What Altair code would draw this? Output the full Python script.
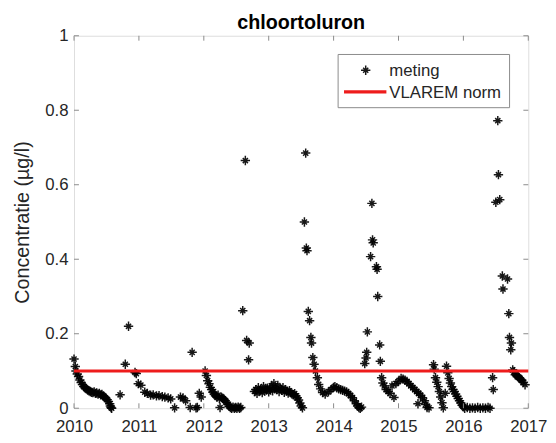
import altair as alt
import pandas as pd

# ---- data ----
years = [
    2010.00, 2010.02, 2010.03, 2010.05, 2010.07, 2010.09, 2010.11, 2010.13, 2010.15, 2010.17,
    2010.19, 2010.21, 2010.23, 2010.25, 2010.27, 2010.29, 2010.31, 2010.33, 2010.35, 2010.37,
    2010.39, 2010.41, 2010.43, 2010.45, 2010.47, 2010.49, 2010.51, 2010.53, 2010.55, 2010.56,
    2010.57, 2010.58, 2010.71, 2010.79, 2010.84, 2010.94, 2010.96, 2010.99, 2011.03, 2011.09,
    2011.13, 2011.18, 2011.22, 2011.27, 2011.31, 2011.36, 2011.40, 2011.45, 2011.49, 2011.55,
    2011.64, 2011.68, 2011.72, 2011.79, 2011.82, 2011.88, 2011.90, 2011.93, 2011.96,
    2012.02, 2012.04, 2012.06, 2012.08, 2012.10, 2012.12, 2012.14, 2012.16, 2012.18, 2012.20,
    2012.22, 2012.24, 2012.25, 2012.27, 2012.29, 2012.31, 2012.33, 2012.35, 2012.37, 2012.39,
    2012.41, 2012.43, 2012.45, 2012.47, 2012.49, 2012.51, 2012.53, 2012.55, 2012.57,
    2012.60, 2012.64, 2012.66, 2012.69, 2012.70,
    2012.78, 2012.80, 2012.82, 2012.84, 2012.86, 2012.88, 2012.90, 2012.92, 2012.94, 2012.96,
    2012.98, 2013.00, 2013.02, 2013.04, 2013.06, 2013.08, 2013.10, 2013.12, 2013.14, 2013.16,
    2013.18, 2013.20, 2013.22, 2013.24, 2013.26, 2013.28, 2013.30, 2013.32, 2013.34, 2013.36,
    2013.38, 2013.40, 2013.42, 2013.44, 2013.46, 2013.48, 2013.50, 2013.52,
    2013.55, 2013.57, 2013.58, 2013.59, 2013.61, 2013.63, 2013.65, 2013.66, 2013.68, 2013.70,
    2013.72, 2013.75, 2013.77, 2013.80, 2013.83, 2013.87, 2013.92, 2013.96, 2014.00, 2014.02,
    2014.05, 2014.08, 2014.11, 2014.14, 2014.17, 2014.20, 2014.23, 2014.26, 2014.29, 2014.32,
    2014.35, 2014.37, 2014.39, 2014.41, 2014.43,
    2014.48, 2014.50, 2014.51, 2014.52, 2014.57, 2014.59, 2014.60, 2014.61, 2014.66, 2014.67,
    2014.68, 2014.71, 2014.72, 2014.74, 2014.76, 2014.78, 2014.81, 2014.84, 2014.87, 2014.90,
    2014.93, 2014.96, 2015.00, 2015.04, 2015.07, 2015.10, 2015.13, 2015.16, 2015.19, 2015.22,
    2015.25, 2015.28, 2015.30, 2015.31, 2015.34, 2015.37, 2015.40, 2015.42, 2015.44, 2015.47,
    2015.54, 2015.55, 2015.57, 2015.59, 2015.61, 2015.63, 2015.65, 2015.67, 2015.69, 2015.72,
    2015.74, 2015.76, 2015.78, 2015.80, 2015.82, 2015.84, 2015.86, 2015.88, 2015.90, 2015.92,
    2015.94, 2015.96, 2015.98, 2016.00, 2016.02, 2016.06, 2016.10, 2016.14, 2016.18, 2016.22,
    2016.26, 2016.30, 2016.34, 2016.38, 2016.41, 2016.45, 2016.46,
    2016.50, 2016.53, 2016.54, 2016.56, 2016.60, 2016.61, 2016.68, 2016.70, 2016.71, 2016.73,
    2016.74, 2016.76, 2016.78, 2016.80, 2016.82, 2016.84, 2016.86, 2016.88, 2016.90, 2016.92,
    2016.95,
]
values = [
    0.132, 0.112, 0.100, 0.092, 0.085, 0.076, 0.069, 0.064, 0.058, 0.055,
    0.052, 0.049, 0.047, 0.045, 0.043, 0.042, 0.044, 0.040, 0.041, 0.038,
    0.040, 0.036, 0.037, 0.033, 0.030, 0.027, 0.023, 0.018, 0.012, 0.006,
    0.002, 0.000, 0.036, 0.118, 0.220, 0.096, 0.093, 0.066, 0.062, 0.043,
    0.040, 0.035, 0.036, 0.033, 0.034, 0.031, 0.030, 0.028, 0.025, 0.001,
    0.030, 0.028, 0.020, 0.002, 0.150, 0.001, 0.002, 0.040, 0.030,
    0.100, 0.088, 0.074, 0.066, 0.056, 0.050, 0.043, 0.038, 0.034, 0.030,
    0.035, 0.026, 0.002, 0.030, 0.027, 0.024, 0.020, 0.016, 0.010, 0.005,
    0.002, 0.000, 0.003, 0.000, 0.002, 0.000, 0.003, 0.000, 0.002,
    0.262, 0.665, 0.182, 0.130, 0.175,
    0.045, 0.050, 0.040, 0.055, 0.047, 0.052, 0.042, 0.058, 0.046, 0.051,
    0.054, 0.044, 0.050, 0.060, 0.047, 0.066, 0.054, 0.050, 0.061, 0.045,
    0.053, 0.048, 0.055, 0.043, 0.050, 0.046, 0.041, 0.047, 0.042, 0.038,
    0.036, 0.039, 0.033, 0.028, 0.022, 0.014, 0.006, 0.001,
    0.500, 0.685, 0.430, 0.423, 0.260, 0.235, 0.190, 0.175, 0.136, 0.118,
    0.100, 0.082, 0.064, 0.052, 0.042, 0.038, 0.044, 0.050, 0.056, 0.058,
    0.055, 0.052, 0.050, 0.048, 0.046, 0.044, 0.040, 0.034, 0.028, 0.020,
    0.012, 0.006, 0.002, 0.000, 0.003,
    0.120, 0.135, 0.150, 0.205, 0.407, 0.550, 0.452, 0.444, 0.380, 0.373,
    0.300, 0.170, 0.126, 0.082, 0.068, 0.060, 0.050, 0.045, 0.040, 0.060,
    0.029, 0.066, 0.072, 0.080, 0.078, 0.075, 0.072, 0.066, 0.060, 0.056,
    0.050, 0.045, 0.012, 0.040, 0.035, 0.028, 0.020, 0.010, 0.002, 0.001,
    0.117, 0.105, 0.082, 0.070, 0.058, 0.045, 0.030, 0.015, 0.001, 0.040,
    0.113, 0.095, 0.080, 0.068, 0.058, 0.050, 0.045, 0.038, 0.032, 0.026,
    0.020, 0.014, 0.008, 0.004, 0.000, 0.002, 0.000, 0.001, 0.000, 0.002,
    0.000, 0.001, 0.000, 0.002, 0.000, 0.082, 0.050,
    0.553, 0.772, 0.627, 0.560, 0.355, 0.320, 0.347, 0.254, 0.190, 0.157,
    0.175, 0.103, 0.098, 0.090, 0.088, 0.085, 0.082, 0.078, 0.075, 0.070,
    0.063,
]
norm_years = [2010, 2017]
norm_values = [0.1, 0.1]
x_ticks = [2010, 2011, 2012, 2013, 2014, 2015, 2016, 2017]
y_ticks = [0, 0.2, 0.4, 0.6, 0.8, 1]
legend_labels = ["meting", "VLAREM norm"]
title_text = "chloortoluron"
y_title = "Concentratie (µg/l)"

# ---- layout / style ----
W, H = 461, 378
FONT = "Liberation Sans"
GRAY = "#8a8a8a"
TXT = "#262626"
STAR = "M-1,0L1,0M0,-1L0,1M-0.55,-0.55L0.55,0.55M-0.55,0.55L0.55,-0.55"

df = pd.DataFrame({"t": years, "v": values})
df_norm = pd.DataFrame({"t": norm_years, "v": norm_values})
df_xt = pd.DataFrame({"t": x_ticks})
df_yt = pd.DataFrame({"v": y_ticks})

xscale = alt.Scale(domain=[2010, 2017], nice=False, zero=False)
yscale = alt.Scale(domain=[0, 1], nice=False, zero=True)

points = alt.Chart(df).mark_point(
    shape=STAR, filled=False, stroke="black", strokeWidth=1.5, size=90, opacity=0.9
).encode(
    x=alt.X("t:Q", scale=xscale, title=None,
            axis=alt.Axis(values=x_ticks, format="d", labelFontSize=17, labelPadding=11,
                          labelColor=TXT, labelFont=FONT, domain=False, ticks=False,
                          grid=False, labelFlush=False)),
    y=alt.Y("v:Q", scale=yscale, title=y_title,
            axis=alt.Axis(values=y_ticks, labelFontSize=17, labelPadding=6,
                          labelColor=TXT, labelFont=FONT, domain=False, ticks=False,
                          grid=False, labelExpr="format(datum.value, '~g')",
                          titleFontSize=20, titleFont=FONT, titleColor=TXT,
                          titleFontWeight="normal", titleX=-52, titleY=H / 2,
                          titleBaseline="middle")),
)

norm = alt.Chart(df_norm).mark_line(color="#ee1c1c", strokeWidth=3.2).encode(
    x=alt.X("t:Q", scale=xscale), y=alt.Y("v:Q", scale=yscale)
)

xt_bottom = alt.Chart(df_xt).mark_rule(color=GRAY, strokeWidth=1).encode(
    x=alt.X("t:Q", scale=xscale), y=alt.value(H), y2=alt.value(H - 5)
)
xt_top = alt.Chart(df_xt).mark_rule(color=GRAY, strokeWidth=1).encode(
    x=alt.X("t:Q", scale=xscale), y=alt.value(0), y2=alt.value(5)
)
yt_left = alt.Chart(df_yt).mark_rule(color=GRAY, strokeWidth=1).encode(
    y=alt.Y("v:Q", scale=yscale), x=alt.value(0), x2=alt.value(5)
)
yt_right = alt.Chart(df_yt).mark_rule(color=GRAY, strokeWidth=1).encode(
    y=alt.Y("v:Q", scale=yscale), x=alt.value(W), x2=alt.value(W - 5)
)

# ---- legend (drawn as decoration) ----
df_leg = pd.DataFrame({"label": legend_labels[:1]})
leg_box = alt.Chart(df_leg).mark_rect(fill="white", stroke=GRAY, strokeWidth=1).encode(
    x=alt.value(268), x2=alt.value(442), y=alt.value(19), y2=alt.value(73)
)
leg_star = alt.Chart(df_leg).mark_point(
    shape=STAR, filled=False, stroke="black", strokeWidth=1.5, size=90, opacity=0.9
).encode(x=alt.value(296), y=alt.value(35))
leg_line = alt.Chart(df_leg).mark_rule(color="#ee1c1c", strokeWidth=3.2).encode(
    x=alt.value(274), x2=alt.value(317), y=alt.value(57)
)
leg_t1 = alt.Chart(pd.DataFrame({"label": legend_labels[:1]})).mark_text(
    align="left", baseline="middle", fontSize=17, font=FONT, color=TXT
).encode(text="label:N", x=alt.value(320), y=alt.value(36))
leg_t2 = alt.Chart(pd.DataFrame({"label": legend_labels[1:]})).mark_text(
    align="left", baseline="middle", fontSize=17, font=FONT, color=TXT
).encode(text="label:N", x=alt.value(320), y=alt.value(58))

chart = alt.layer(
    points, norm, xt_bottom, xt_top, yt_left, yt_right,
    leg_box, leg_star, leg_line, leg_t1, leg_t2
).properties(
    width=W, height=H,
    title=alt.TitleParams(title_text, fontSize=20, font=FONT, fontWeight="bold",
                          color="black", anchor="middle", offset=5, dy=11),
    autosize=alt.AutoSizeParams(type="none"),
    padding={"left": 67, "top": 25, "right": 20, "bottom": 24},
).configure_view(stroke=GRAY, strokeWidth=1).configure(background="white")

chart.save("out.html", embed_options={"renderer": "svg", "actions": False})
